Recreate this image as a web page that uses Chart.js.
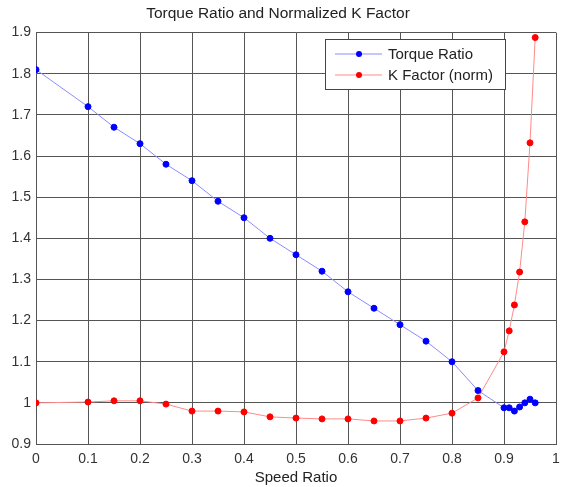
<!DOCTYPE html>
<html>
<head>
<meta charset="utf-8">
<script src="https://cdn.jsdelivr.net/npm/chart.js@4/dist/chart.umd.min.js"></script>
<style>
	html, body { margin: 0; padding: 0; background: #fff; }
	#wrap { width: 561px; height: 487px; position: relative; }
</style>
</head>
<body>
<div id="wrap"><canvas id="chart"></canvas></div>
<script>
// speed ratio samples (shared by both series)
const speedRatio = [0, 0.1, 0.15, 0.2, 0.25, 0.3, 0.35, 0.4, 0.45, 0.5, 0.55, 0.6, 0.65, 0.7, 0.75, 0.8, 0.85, 0.9, 0.91, 0.92, 0.93, 0.94, 0.95, 0.96];
const torqueRatio = [1.81, 1.72, 1.67, 1.63, 1.58, 1.54, 1.49, 1.45, 1.40, 1.36, 1.32, 1.27, 1.23, 1.19, 1.15, 1.10, 1.03, 0.988, 0.988, 0.98, 0.99, 1.0, 1.009, 1.0];
const kFactorNorm = [1.0, 1.002, 1.005, 1.005, 0.997, 0.98, 0.98, 0.978, 0.966, 0.963, 0.961, 0.961, 0.956, 0.956, 0.963, 0.975, 1.012, 1.124, 1.175, 1.238, 1.318, 1.44, 1.632, 1.888];
const xTicks = [0, 0.1, 0.2, 0.3, 0.4, 0.5, 0.6, 0.7, 0.8, 0.9, 1];
const yTicks = [0.9, 1.0, 1.1, 1.2, 1.3, 1.4, 1.5, 1.6, 1.7, 1.8, 1.9];

const FONT = 'Liberation Sans, Arial, sans-serif';
const GRID = '#555';

const toPoints = (ys) => speedRatio.map((x, i) => ({ x: x, y: ys[i] }));
const fmt = (v) => String(Number(v.toFixed(1)));

// legend box drawn inside the plot area, MATLAB style
const boxLegend = {
	id: 'boxLegend',
	afterDraw(chart) {
		const ctx = chart.ctx;
		const x0 = 325, y0 = 39, w = 180, h = 50;
		ctx.save();
		ctx.fillStyle = '#fff';
		ctx.fillRect(x0, y0, w, h);
		ctx.strokeStyle = '#444';
		ctx.lineWidth = 1;
		ctx.strokeRect(x0 + 0.5, y0 + 0.5, w, h);
		ctx.font = '15px ' + FONT;
		ctx.textBaseline = 'middle';
		chart.data.datasets.forEach((ds, i) => {
			const yy = y0 + 15 + i * 21;
			ctx.strokeStyle = ds.borderColor;
			ctx.beginPath();
			ctx.moveTo(x0 + 10, yy);
			ctx.lineTo(x0 + 57, yy);
			ctx.stroke();
			ctx.fillStyle = ds.pointBackgroundColor;
			ctx.beginPath();
			ctx.arc(x0 + 34, yy, 3, 0, Math.PI * 2);
			ctx.fill();
			ctx.fillStyle = '#222';
			ctx.fillText(ds.label, x0 + 63, yy + 1);
		});
		ctx.restore();
	},
};

const ctx = document.getElementById('chart').getContext('2d');
new Chart(ctx, {
	type: 'scatter',
	data: {
		datasets: [
			{
				label: 'Torque Ratio',
				data: toPoints(torqueRatio),
				showLine: true,
				borderColor: '#8c8cff',
				borderWidth: 1,
				pointBackgroundColor: '#0000ff',
				pointBorderColor: '#0000ff',
				pointRadius: 3,
			},
			{
				label: 'K Factor (norm)',
				data: toPoints(kFactorNorm),
				showLine: true,
				borderColor: '#ff8a8a',
				borderWidth: 1,
				pointBackgroundColor: '#ff0000',
				pointBorderColor: '#ff0000',
				pointRadius: 3,
			},
		],
	},
	options: {
		responsive: true,
		maintainAspectRatio: false,
		animation: false,
		layout: { padding: { left: 0, right: 5, top: 0, bottom: 0 } },
		plugins: {
			legend: { display: false },
			tooltip: { enabled: false },
			title: {
				display: true,
				text: 'Torque Ratio and Normalized K Factor',
				color: '#222',
				font: { family: FONT, size: 15.5, weight: 'normal' },
				padding: { top: 4, bottom: 10 },
			},
		},
		scales: {
			x: {
				type: 'linear',
				min: 0,
				max: 1,
				afterBuildTicks: (scale) => { scale.ticks = xTicks.map((v) => ({ value: v })); },
				ticks: {
					color: '#333',
					font: { family: FONT, size: 14 },
					padding: 7,
					maxRotation: 0,
					callback: (v) => fmt(v),
				},
				grid: { color: GRID, lineWidth: 1, drawTicks: false },
				border: { color: GRID },
				title: {
					display: true,
					text: 'Speed Ratio',
					color: '#222',
					font: { family: FONT, size: 15 },
					padding: { top: 2, bottom: 0 },
				},
				afterFit: (scale) => {
					scale.height = 43;
					scale.paddingLeft = 0;
					scale.paddingRight = 0;
				},
			},
			y: {
				type: 'linear',
				min: 0.9,
				max: 1.9,
				afterBuildTicks: (scale) => { scale.ticks = yTicks.map((v) => ({ value: v })); },
				ticks: {
					color: '#333',
					font: { family: FONT, size: 14 },
					padding: 5,
					callback: (v) => fmt(v),
				},
				grid: { color: GRID, lineWidth: 1, drawTicks: false },
				border: { color: GRID },
				afterFit: (scale) => { scale.width = 36; },
			},
		},
	},
	plugins: [boxLegend],
});
</script>
</body>
</html>
